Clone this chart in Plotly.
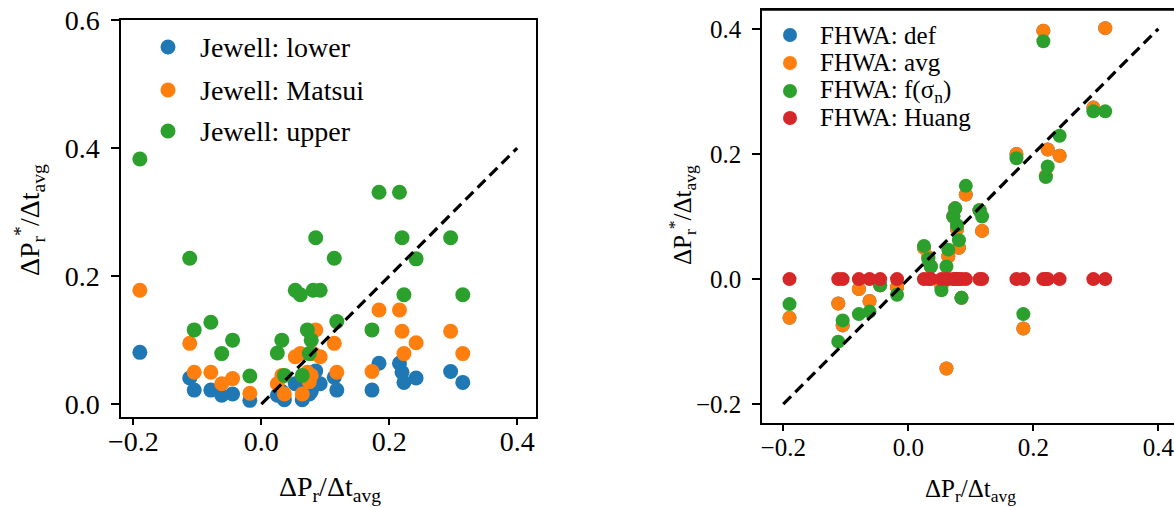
import plotly.graph_objects as go

# common abscissa: dP_r / dt_avg
x_vals = [-0.190, -0.112, -0.105, -0.079, -0.062, -0.045, -0.018,
          0.025, 0.032, 0.036, 0.053, 0.061, 0.064, 0.072, 0.075, 0.078,
          0.081, 0.085, 0.092, 0.114, 0.118,
          0.173, 0.184, 0.216, 0.220, 0.223, 0.242, 0.296, 0.315]

# left panel (Jewell)
jewell_lower = [0.081, 0.041, 0.022, 0.022, 0.014, 0.016, 0.006,
                0.014, 0.020, 0.007, 0.032, 0.035, 0.007, 0.022, 0.016, 0.020,
                0.035, 0.052, 0.032, 0.042, 0.022,
                0.022, 0.064, 0.064, 0.050, 0.034, 0.041, 0.051, 0.034]
jewell_matsui = [0.178, 0.095, 0.050, 0.050, 0.032, 0.040, 0.017,
                 0.032, 0.045, 0.016, 0.074, 0.079, 0.016, 0.050, 0.035, 0.045,
                 0.079, 0.116, 0.074, 0.095, 0.050,
                 0.051, 0.147, 0.147, 0.114, 0.079, 0.096, 0.114, 0.079]
jewell_upper = [0.383, 0.228, 0.116, 0.128, 0.079, 0.100, 0.044,
                0.080, 0.100, 0.045, 0.178, 0.171, 0.045, 0.116, 0.079, 0.100,
                0.178, 0.260, 0.178, 0.228, 0.129,
                0.116, 0.331, 0.331, 0.260, 0.171, 0.227, 0.260, 0.171]

# right panel (FHWA)
fhwa_def = [-0.062, -0.039, -0.074, -0.016, -0.035, -0.010, -0.013,
            0.050, 0.035, 0.020, -0.012, -0.143, 0.036, 0.100, 0.113, 0.080,
            0.050, -0.030, 0.135, 0.110, 0.077,
            0.200, -0.079, 0.397, 0.165, 0.207, 0.197, 0.274, 0.401]
fhwa_avg = [-0.062, -0.039, -0.074, -0.016, -0.035, -0.010, -0.013,
            0.050, 0.035, 0.020, -0.012, -0.143, 0.036, 0.100, 0.113, 0.080,
            0.050, -0.030, 0.135, 0.110, 0.077,
            0.200, -0.079, 0.397, 0.165, 0.207, 0.197, 0.274, 0.401]
fhwa_fsn = [-0.040, -0.100, -0.066, -0.056, -0.052, -0.010, -0.025,
            0.053, 0.032, 0.020, -0.018, 0.020, 0.047, 0.100, 0.113, 0.086,
            0.062, -0.030, 0.149, 0.110, 0.100,
            0.193, -0.056, 0.380, 0.163, 0.180, 0.229, 0.268, 0.268]
fhwa_huang = [0.0, 0.0, 0.0, 0.0, 0.0, 0.0, 0.0,
              0.0, 0.0, 0.0, 0.0, 0.0, 0.0, 0.0, 0.0, 0.0,
              0.0, 0.0, 0.0, 0.0, 0.0,
              0.0, 0.0, 0.0, 0.0, 0.0, 0.0, 0.0, 0.0]

left_names = ["Jewell: lower", "Jewell: Matsui", "Jewell: upper"]
right_names = ["FHWA: def", "FHWA: avg", "FHWA: f(σ<sub>n</sub>)", "FHWA: Huang"]
left_ref_x = [0.0, 0.4]
right_ref_x = [-0.2, 0.4]
x_ticks = [-0.2, 0.0, 0.2, 0.4]
left_y_ticks = [0.0, 0.2, 0.4, 0.6]
right_y_ticks = [-0.2, 0.0, 0.2, 0.4]

W, H = 1174, 507
FONT = "Liberation Serif"
FS_L = 28
FS_R = 25
colors = ["#1f77b4", "#ff7f0e", "#2ca02c", "#d62728"]
DASH = "11px,6px"

fig = go.Figure()

for i, (ys, nm) in enumerate(zip([jewell_lower, jewell_matsui, jewell_upper], left_names)):
    fig.add_trace(go.Scatter(x=x_vals, y=ys, mode="markers", name=nm,
                             marker=dict(size=15, color=colors[i], line=dict(width=0)),
                             xaxis="x", yaxis="y"))
fig.add_trace(go.Scatter(x=left_ref_x, y=left_ref_x, mode="lines", name="1:1",
                         line=dict(color="black", width=3.2, dash=DASH),
                         xaxis="x", yaxis="y"))

for i, (ys, nm) in enumerate(zip([fhwa_def, fhwa_avg, fhwa_fsn, fhwa_huang], right_names)):
    fig.add_trace(go.Scatter(x=x_vals, y=ys, mode="markers", name=nm,
                             marker=dict(size=14, color=colors[i], line=dict(width=0)),
                             xaxis="x2", yaxis="y2"))
fig.add_trace(go.Scatter(x=right_ref_x, y=right_ref_x, mode="lines", name="1:1",
                         line=dict(color="black", width=3.2, dash=DASH),
                         xaxis="x2", yaxis="y2"))


def px_x(p):
    return p / W


def px_y(p):
    return 1 - p / H


def axis_common(fs, standoff, ticklen):
    return dict(showline=True, linecolor="black", linewidth=1.5, ticks="outside",
                ticklen=ticklen, tickwidth=1.5, tickcolor="black", showgrid=False,
                zeroline=False, tickformat=".1f", ticklabelstandoff=standoff,
                ticklabeloverflow="allow",
                tickfont=dict(family=FONT, size=fs, color="black"))


# manual legends (circle symbol + real text)
shapes = []
annotations = []
left_leg_y = [47, 90, 131]
for i, nm in enumerate(left_names):
    cy = px_y(left_leg_y[i])
    shapes.append(dict(type="circle", xref="paper", yref="paper",
                       xsizemode="pixel", ysizemode="pixel",
                       xanchor=px_x(168), yanchor=cy, x0=-7.5, x1=7.5, y0=-7.5, y1=7.5,
                       fillcolor=colors[i], line=dict(width=0)))
    annotations.append(dict(text=nm, xref="paper", yref="paper", x=px_x(198), y=cy,
                            xanchor="left", yanchor="middle", showarrow=False,
                            font=dict(family=FONT, size=FS_L, color="black")))
right_leg_y = [35, 63, 91, 118]
for i, nm in enumerate(right_names):
    cy = px_y(right_leg_y[i])
    shapes.append(dict(type="circle", xref="paper", yref="paper",
                       xsizemode="pixel", ysizemode="pixel",
                       xanchor=px_x(790), yanchor=cy, x0=-7, x1=7, y0=-7, y1=7,
                       fillcolor=colors[i], line=dict(width=0)))
    annotations.append(dict(text=nm, xref="paper", yref="paper", x=px_x(818), y=cy,
                            xanchor="left", yanchor="middle", showarrow=False,
                            font=dict(family=FONT, size=FS_R, color="black")))

annotations += [
    dict(text="ΔP<sub>r</sub>/Δt<sub>avg</sub>", xref="paper", yref="paper",
         x=px_x(330), y=px_y(488), showarrow=False, xanchor="center", yanchor="middle",
         font=dict(family=FONT, size=FS_L)),
    dict(text="ΔP<sub>r</sub>/Δt<sub>avg</sub>", xref="paper", yref="paper",
         x=px_x(970), y=px_y(490), showarrow=False, xanchor="center", yanchor="middle",
         font=dict(family=FONT, size=FS_R)),
    dict(text="ΔP<sub>r</sub><sup>*</sup>/Δt<sub>avg</sub>", xref="paper", yref="paper",
         x=px_x(29), y=px_y(220), showarrow=False, textangle=-90,
         xanchor="center", yanchor="middle", font=dict(family=FONT, size=FS_L)),
    dict(text="ΔP<sub>r</sub><sup>*</sup>/Δt<sub>avg</sub>", xref="paper", yref="paper",
         x=px_x(682), y=px_y(215), showarrow=False, textangle=-90,
         xanchor="center", yanchor="middle", font=dict(family=FONT, size=FS_R)),
]

# top spine of the right panel (its right spine lies outside the picture)
shapes.append(dict(type="line", xref="paper", yref="paper", x0=px_x(762), x1=1.0,
                   y0=px_y(10), y1=px_y(10), line=dict(color="black", width=1.5)))

fig.update_layout(
    width=W, height=H, autosize=False, showlegend=False,
    margin=dict(l=0, r=0, t=0, b=0, pad=0, autoexpand=False),
    paper_bgcolor="white", plot_bgcolor="white",
    font=dict(family=FONT, size=FS_L, color="black"),
    xaxis=dict(domain=[px_x(121), px_x(536)], range=[-0.2195, 0.4295], tickvals=x_ticks,
               mirror=True, anchor="y", **axis_common(FS_L, -7, 6)),
    yaxis=dict(domain=[px_y(417), px_y(20)], range=[-0.02, 0.6], tickvals=left_y_ticks,
               mirror=True, anchor="x", **axis_common(FS_L, 6, 8)),
    xaxis2=dict(domain=[px_x(762), 1.0], range=[-0.234, 0.425], tickvals=x_ticks,
                mirror=True, anchor="y2", **axis_common(FS_R, -5, 6)),
    yaxis2=dict(domain=[px_y(423), px_y(10)], range=[-0.23, 0.43], tickvals=right_y_ticks,
                mirror=False, anchor="x2", **axis_common(FS_R, 6, 8)),
    shapes=shapes,
    annotations=annotations,
)

fig.write_html("out.html")
